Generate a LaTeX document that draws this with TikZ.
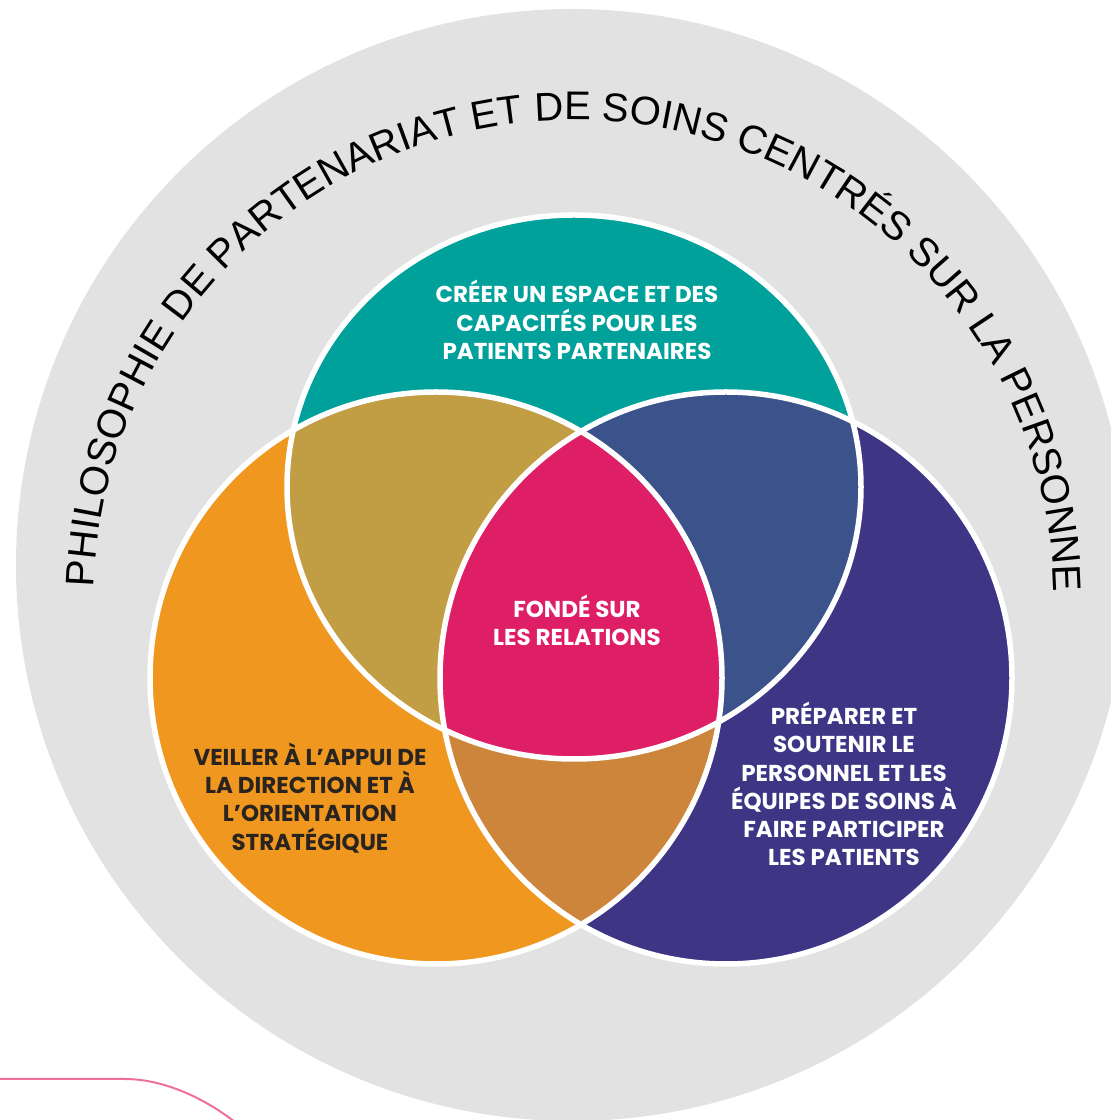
\documentclass[tikz,border=0pt]{standalone}
\usepackage{fontspec}
\setmainfont{Liberation Sans}
\newfontfamily\labelfont{Poppins}
\usetikzlibrary{decorations.text}
\definecolor{ringgray}{HTML}{E2E2E2}
\definecolor{tealc}{HTML}{00A19B}
\definecolor{orangec}{HTML}{F0971F}
\definecolor{purplec}{HTML}{3E3585}
\definecolor{olivec}{HTML}{C19D44}
\definecolor{bluec}{HTML}{3B528B}
\definecolor{brownc}{HTML}{CC853A}
\definecolor{redc}{HTML}{DF1F65}
\definecolor{pinkc}{HTML}{EF6F9C}
\definecolor{darktext}{HTML}{2A2420}
\newcommand{\outerfont}{\fontsize{40}{41}\selectfont}
\begin{document}
\begin{tikzpicture}[x=1pt,y=1pt,
  lbl/.style={font=\labelfont\bfseries\fontsize{23}{28.2}\selectfont, align=center, text=white, inner sep=0pt},
  outline/.style={draw=white, line width=5.5pt}]
\useasboundingbox (0,0) rectangle (1111,1120);
\clip (0,0) rectangle (1111,1120);
% outer ring
\fill[ringgray] (572,555) circle[radius=556pt];
% centres
\coordinate (co) at (436,442);
\coordinate (cp) at (726,442);
\coordinate (ct) at (574,633);
% base fills
\fill[orangec] (co) circle[radius=286pt];
\fill[purplec] (cp) circle[radius=286pt];
\fill[tealc] (ct) ellipse[x radius=287pt, y radius=272pt];
% pairwise overlaps
\begin{scope}
  \clip (ct) ellipse[x radius=287pt, y radius=272pt];
  \fill[olivec] (co) circle[radius=286pt];
  \fill[bluec] (cp) circle[radius=286pt];
\end{scope}
\begin{scope}
  \clip (co) circle[radius=286pt];
  \fill[brownc] (cp) circle[radius=286pt];
\end{scope}
% centre overlap
\begin{scope}
  \clip (ct) ellipse[x radius=287pt, y radius=272pt];
  \clip (co) circle[radius=286pt];
  \fill[redc] (cp) circle[radius=286pt];
\end{scope}
% white outlines
\path[outline] (co) circle[radius=286pt];
\path[outline] (cp) circle[radius=286pt];
\path[outline] (ct) ellipse[x radius=287pt, y radius=272pt];
% curved title
\coordinate (arcc) at (574,520);
\path[decorate, decoration={text along path, text align=center,
  text={|\outerfont|PHILOSOPHIE DE PARTENARIAT ET DE SOINS CENTRÉS SUR LA PERSONNE}}]
  (arcc) ++(178:480) arc[start angle=178, end angle=1.5, radius=480pt];
% labels
\node[lbl] (tealtxt) at (577,800) {CRÉER UN ESPACE ET DES\\CAPACITÉS POUR LES\\PATIENTS PARTENAIRES};
\node[lbl] (centretxt) at (577,500) {FONDÉ SUR\\LES RELATIONS};
\node[lbl, text=darktext] (orangetxt) at (310,322) {VEILLER À L’APPUI DE\\LA DIRECTION ET À\\L’ORIENTATION\\STRATÉGIQUE};
\node[lbl] (purpletxt) at (844,336) {PRÉPARER ET\\SOUTENIR LE\\PERSONNEL ET LES\\ÉQUIPES DE SOINS À\\FAIRE PARTICIPER\\LES PATIENTS};
% pink frame corner
\coordinate (pk1) at (0,41);
\coordinate (pk2) at (125,41);
\coordinate (pk3) at (235,-2);
\draw[pinkc, line width=2pt] (pk1) -- (pk2) .. controls (160,41) and (200,25) .. (pk3);
\end{tikzpicture}
\end{document}
